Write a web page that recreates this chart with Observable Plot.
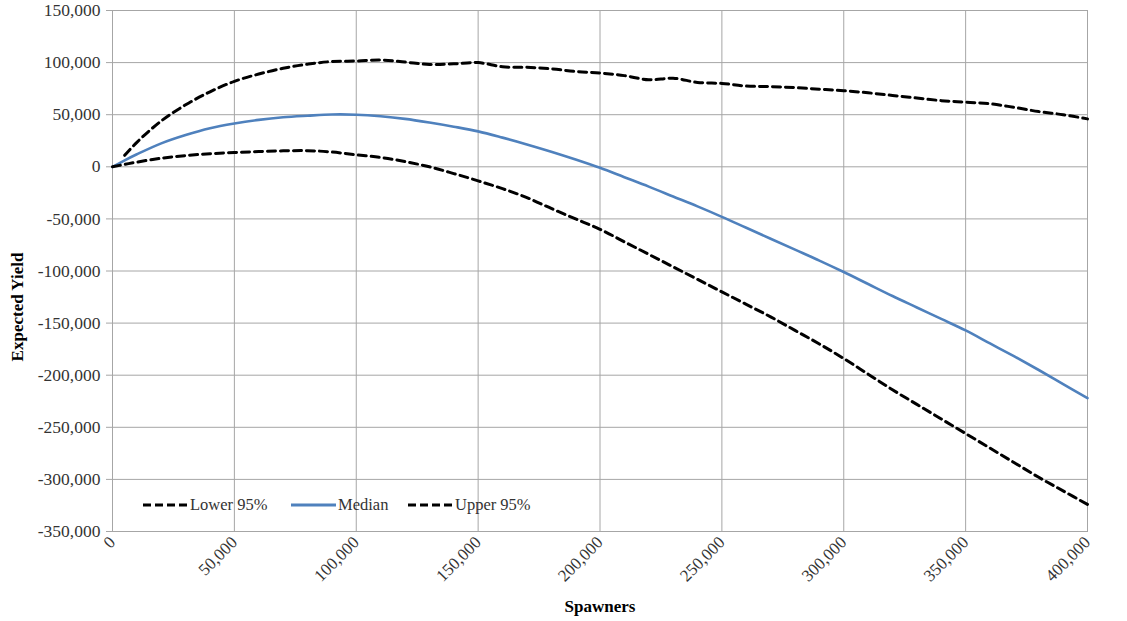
<!DOCTYPE html>
<html>
<head>
<meta charset="utf-8">
<script src="https://cdn.jsdelivr.net/npm/d3@7"></script>
<script src="https://cdn.jsdelivr.net/npm/@observablehq/plot@0.6"></script>
<style>
  html, body { margin: 0; padding: 0; background: #fff; }
  #chart { position: relative; width: 1127px; height: 621px; }
</style>
</head>
<body>
<div id="chart"></div>
<script>
const spawners = [0, 5000, 10000, 20000, 30000, 40000, 50000, 60000, 70000, 80000, 90000, 100000,
  110000, 120000, 130000, 140000, 150000, 160000, 170000, 180000, 190000, 200000,
  210000, 220000, 230000, 240000, 250000, 260000, 270000, 280000, 290000, 300000,
  310000, 320000, 330000, 340000, 350000, 360000, 370000, 380000, 390000, 400000];

const lower95 = [0, 2300, 4500, 8200, 10800, 12500, 13700, 14600, 15300, 15500, 14200, 11500,
  9000, 5000, 0, -6500, -13500, -21000, -29500, -40000, -50000, -60000,
  -72000, -84000, -96000, -108000, -120000, -132000, -144000, -157000, -170000, -184000,
  -199000, -214000, -228000, -242000, -256000, -270000, -284000, -298000, -311000, -324000];

const median = [0, 6200, 12000, 22500, 30500, 37000, 41500, 45000, 47500, 49000, 50200, 50000,
  48500, 46000, 42500, 38500, 34000, 28000, 21500, 14500, 7000, -1000,
  -10000, -19000, -28500, -38000, -48000, -58500, -69000, -79500, -90000, -101000,
  -112500, -124000, -135000, -146000, -157000, -169500, -182000, -195000, -208500, -222000];

const upper95 = [null, 11000, 23500, 44000, 59500, 72000, 82000, 89000, 94500, 98500, 101000, 101500,
  102500, 100500, 98200, 98800, 100000, 96000, 95500, 94000, 91500, 90000,
  87500, 83500, 85000, 81000, 80000, 77500, 77000, 76000, 74500, 73000,
  71000, 68500, 66000, 63500, 62000, 60500, 57000, 53000, 50000, 46000];

const xTicks = [0, 50000, 100000, 150000, 200000, 250000, 300000, 350000, 400000];
const yTicks = [150000, 100000, 50000, 0, -50000, -100000, -150000, -200000, -250000, -300000, -350000];

const seriesNames = ["Lower 95%", "Median", "Upper 95%"];

const rows = [];
spawners.forEach((s, i) => {
  rows.push({series: "Lower 95%", x: s, y: lower95[i]});
  rows.push({series: "Median", x: s, y: median[i]});
  if (upper95[i] != null) rows.push({series: "Upper 95%", x: s, y: upper95[i]});
});

const comma = d3.format(",");
const fmt = v => comma(v).replace("\u2212", "-");
const serif = "'Liberation Serif', 'Times New Roman', serif";
const gridColor = "#a6a6a6";

const plot = Plot.plot({
  width: 1127,
  height: 621,
  marginLeft: 112,
  marginRight: 40,
  marginTop: 10,
  marginBottom: 90,
  style: { fontFamily: serif, fontSize: "15px", color: "#333", background: "#fff" },
  x: { domain: [0, 400000], label: null },
  y: { domain: [-350000, 150000], label: null },
  marks: [
    Plot.gridX(xTicks, { stroke: gridColor, strokeOpacity: 1, strokeWidth: 1 }),
    Plot.gridY(yTicks, { stroke: gridColor, strokeOpacity: 1, strokeWidth: 1 }),
    Plot.frame({ stroke: gridColor }),
    Plot.axisY(yTicks, { tickFormat: fmt, tickSize: 6, stroke: gridColor, fontSize: 17.5, fill: "#333", tickPadding: 6, label: null }),
    Plot.axisX(xTicks, { tickFormat: fmt, tickRotate: -45, tickSize: 0, fontSize: 17, fill: "#333", tickPadding: 8, label: null }),
    Plot.line(rows.filter(d => d.series === "Median"), {
      x: "x", y: "y", stroke: "#4f81bd", strokeWidth: 2.6, curve: "catmull-rom"
    }),
    Plot.line(rows.filter(d => d.series !== "Median"), {
      x: "x", y: "y", z: "series", stroke: "#000", strokeWidth: 3, strokeDasharray: "8,5", curve: "catmull-rom"
    })
  ]
});

document.getElementById("chart").appendChild(plot);

const svg = d3.select(plot);
// Axis titles
svg.append("text")
  .attr("x", 600).attr("y", 612)
  .attr("text-anchor", "middle")
  .attr("font-family", serif).attr("font-weight", "bold").attr("font-size", 17).attr("fill", "#000")
  .text("Spawners");
svg.append("text")
  .attr("transform", "translate(23,307) rotate(-90)")
  .attr("text-anchor", "middle")
  .attr("font-family", serif).attr("font-weight", "bold").attr("font-size", 17).attr("fill", "#000")
  .text("Expected Yield");

// Legend inside plot area
const legendItems = [
  {name: seriesNames[0], x: 143, dash: "8,4", color: "#000"},
  {name: seriesNames[1], x: 291, dash: null, color: "#4f81bd"},
  {name: seriesNames[2], x: 408, dash: "8,4", color: "#000"}
];
const lg = svg.append("g");
legendItems.forEach(it => {
  lg.append("line")
    .attr("x1", it.x).attr("x2", it.x + 45).attr("y1", 505).attr("y2", 505)
    .attr("stroke", it.color).attr("stroke-width", 3)
    .attr("stroke-dasharray", it.dash);
  lg.append("text")
    .attr("x", it.x + 47).attr("y", 510)
    .attr("text-anchor", "start")
    .attr("font-family", serif).attr("font-size", 16.5).attr("fill", "#333")
    .text(it.name);
});
</script>
</body>
</html>
